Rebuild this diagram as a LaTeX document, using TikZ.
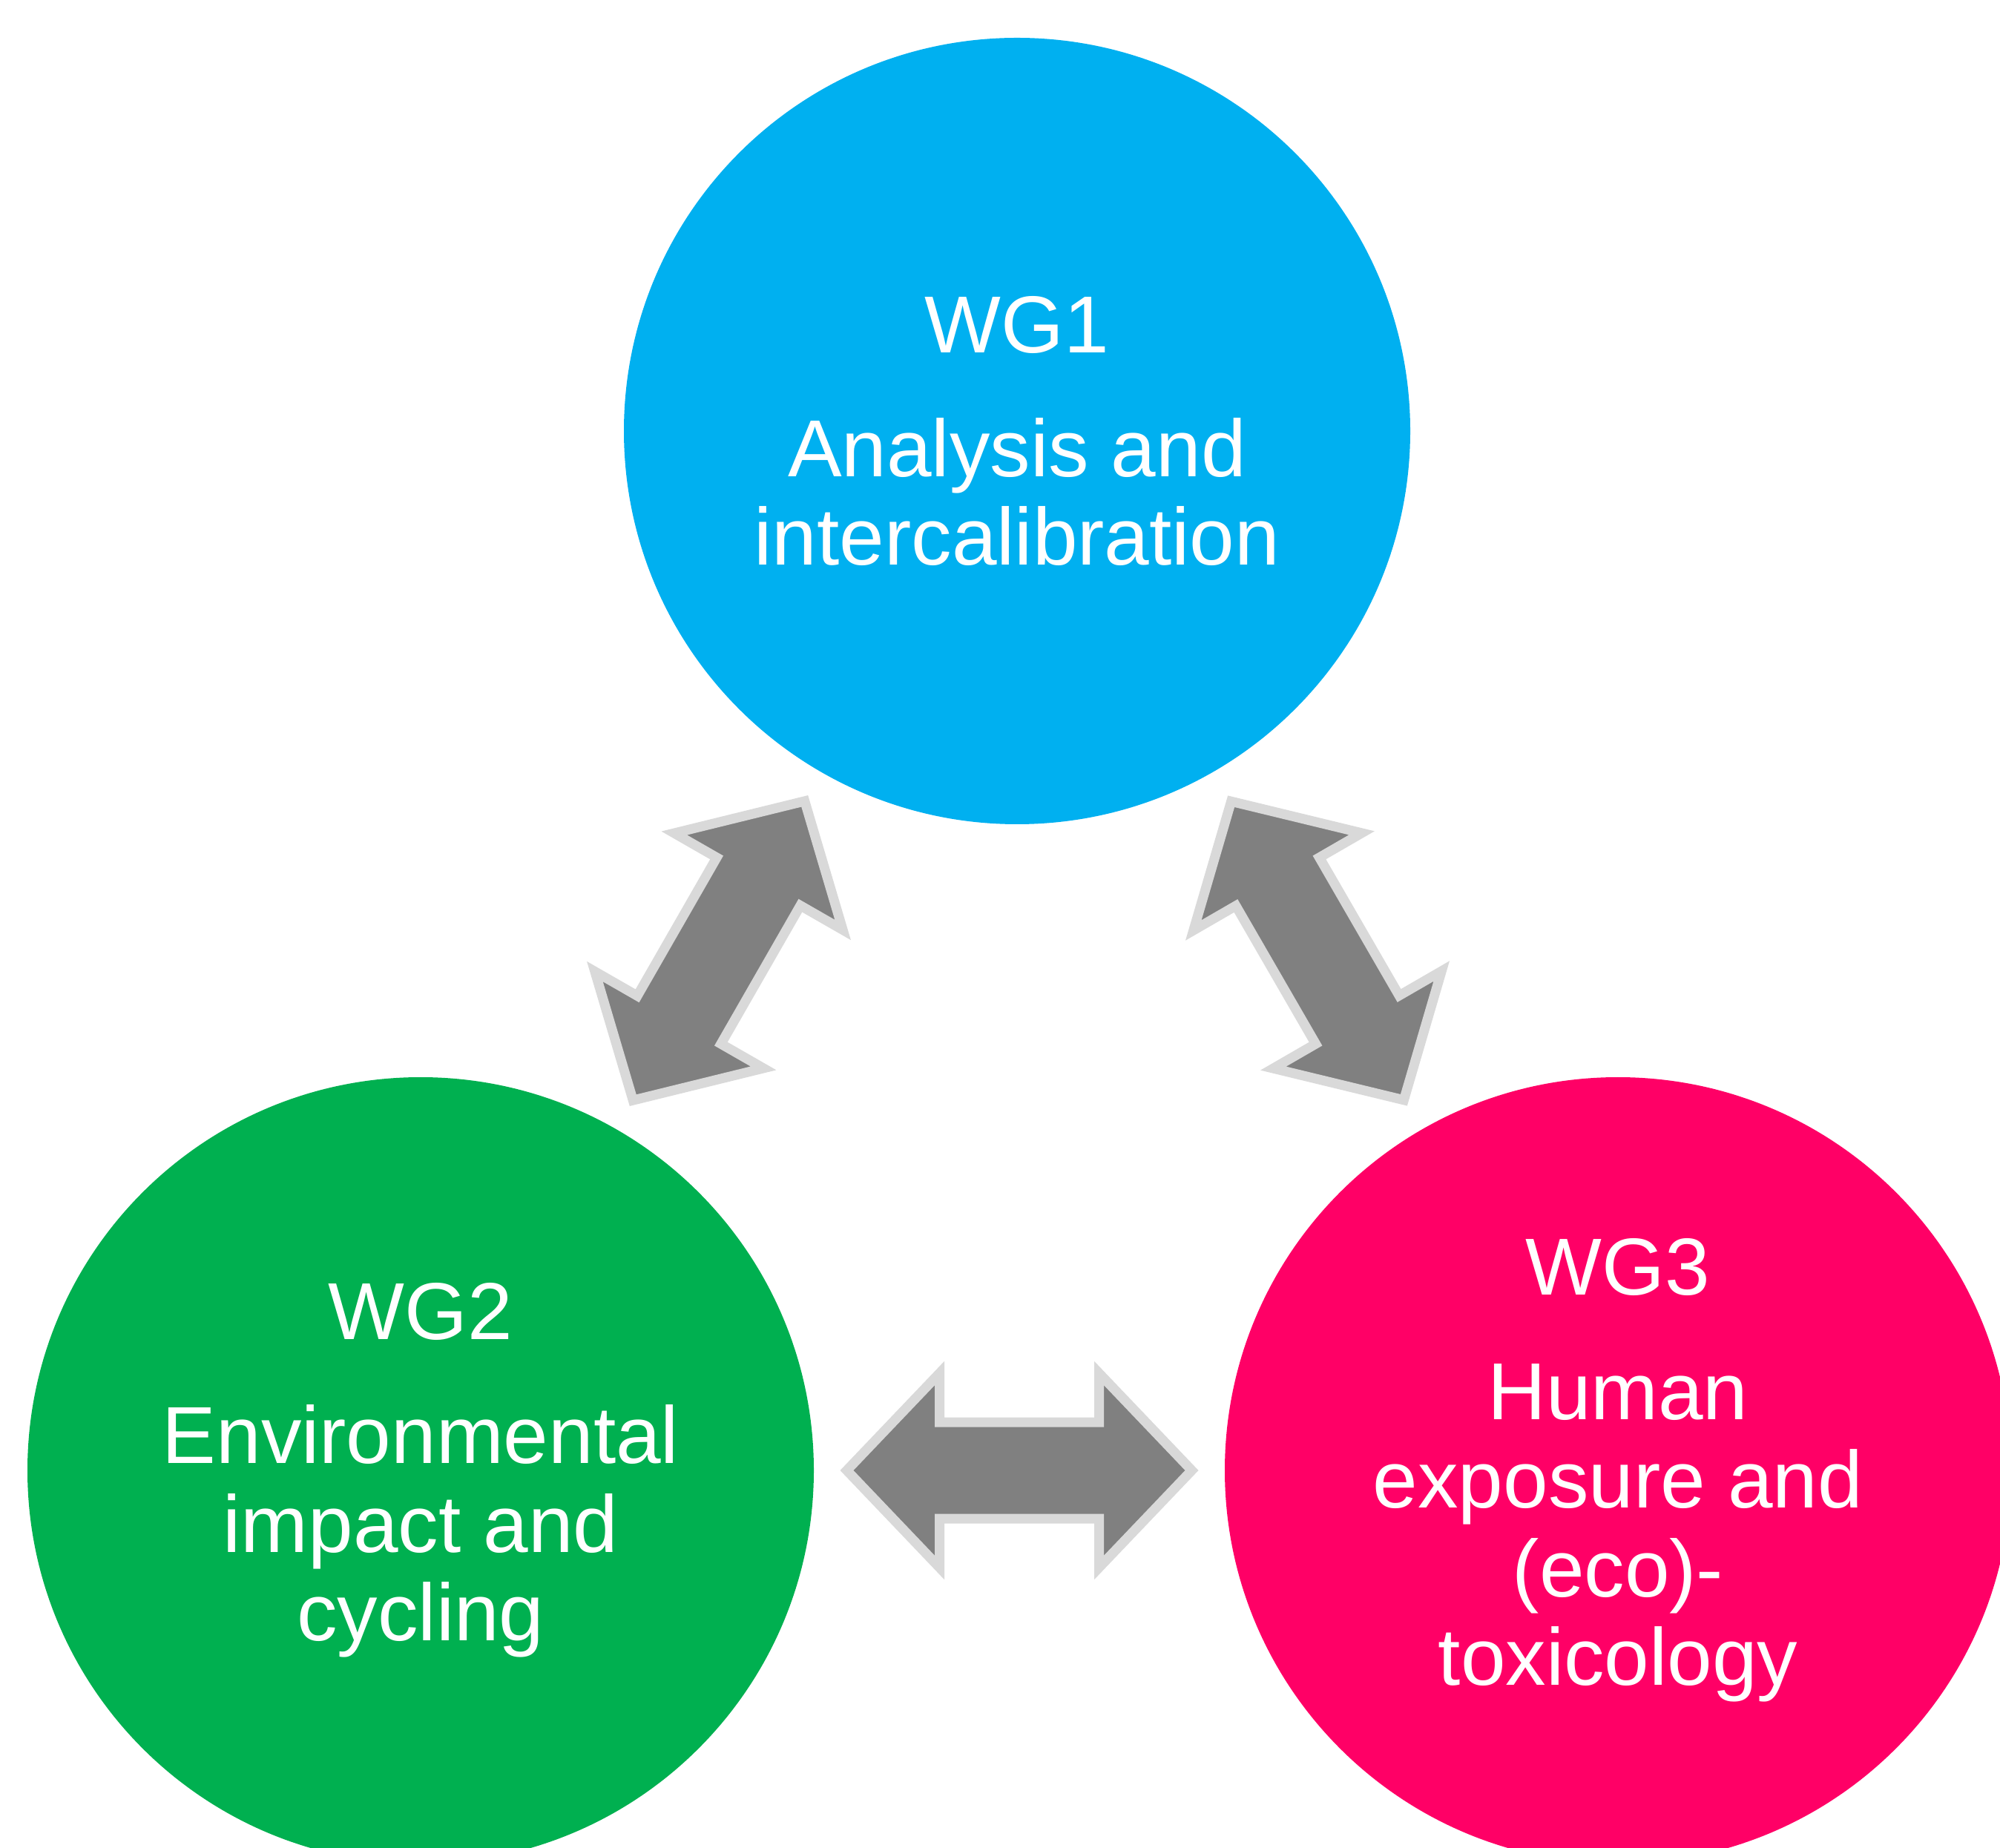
\documentclass[tikz,border=0pt]{standalone}
\usepackage{fontspec}
\setmainfont{Liberation Sans}
\usetikzlibrary{calc}

\definecolor{wgblue}{HTML}{00B0F0}
\definecolor{wggreen}{HTML}{00B050}
\definecolor{wgpink}{HTML}{FF0066}
\definecolor{linkfill}{HTML}{808080}
\definecolor{linkrim}{HTML}{D9D9D9}

\tikzset{
  wgcircle/.style={circle, minimum size=10.6cm, inner sep=0pt, text=white,
    align=center, font=\fontsize{31}{34}\selectfont},
  linkarrow/.style={fill=linkfill, draw=linkrim, line width=0.13cm, line join=miter}
}

\newcommand{\linkarrow}[2]{%
  \pgfmathanglebetweenpoints{\pgfpointanchor{#1}{center}}{\pgfpointanchor{#2}{center}}%
  \let\linkangle\pgfmathresult
  \begin{scope}[shift={($(#1)!0.5!(#2)$)}, rotate=\linkangle]
    \draw[linkarrow] (-\halfLen, 0) -- (-\headBase, \headW) -- (-\headBase, \shaftW)
      -- (\headBase, \shaftW) -- (\headBase, \headW) -- (\halfLen, 0)
      -- (\headBase, -\headW) -- (\headBase, -\shaftW) -- (-\headBase, -\shaftW)
      -- (-\headBase, -\headW) -- cycle;
  \end{scope}}

\begin{document}
\begin{tikzpicture}

  \pgfmathsetmacro{\halfLen}{2.325}
  \pgfmathsetmacro{\headBase}{\halfLen - 1.25}
  \pgfmathsetmacro{\headW}{1.31}
  \pgfmathsetmacro{\shaftW}{0.65}

  \useasboundingbox (0, 0) rectangle (26.96, 24.90);
  \clip (0, 0) rectangle (26.96, 24.90);

  \node[wgcircle, fill=wgblue] (wg1) at (13.71, 19.09)
    {WG1\\[13.6pt] Analysis and\\intercalibration};
  \node[wgcircle, fill=wggreen] (wg2) at (5.67, 5.08)
    {WG2\\[13.6pt] Environmental\\impact and\\cycling};
  \node[wgcircle, fill=wgpink] (wg3) at (21.81, 5.08)
    {WG3\\[13.6pt] Human\\exposure and\\(eco)-\\toxicology};

  \linkarrow{wg2}{wg1}
  \linkarrow{wg1}{wg3}
  \linkarrow{wg2}{wg3}

\end{tikzpicture}
\end{document}
